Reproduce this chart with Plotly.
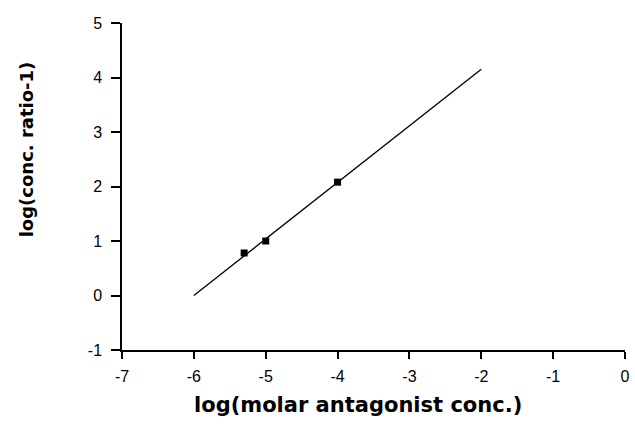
import plotly.graph_objects as go

# Data
point_x = [-5.3, -5.0, -4.0]
point_y = [0.78, 1.0, 2.08]
fit_x = [-6.0, -2.0]
fit_y = [0.0, 4.15]

x_ticks = [-7, -6, -5, -4, -3, -2, -1, 0]
y_ticks = [-1, 0, 1, 2, 3, 4, 5]

x_title = "log(molar antagonist conc.)"
y_title = "log(conc. ratio-1)"

fig = go.Figure()
fig.add_trace(go.Scatter(x=fit_x, y=fit_y, mode="lines",
                         line=dict(color="black", width=1.3), showlegend=False))
fig.add_trace(go.Scatter(x=point_x, y=point_y, mode="markers",
                         marker=dict(symbol="square", size=7, color="black"),
                         showlegend=False))

tickfont = dict(family="Liberation Sans, Arial, sans-serif", size=16, color="black")
titlefont = dict(family="DejaVu Sans, sans-serif", color="black")
fig.update_layout(
    width=635, height=426,
    margin=dict(l=122, r=5, t=23, b=76),
    paper_bgcolor="white", plot_bgcolor="white",
    xaxis=dict(range=[-7, 0], tickvals=x_ticks, ticktext=[str(v) for v in x_ticks],
               showgrid=False, zeroline=False, showline=True, linecolor="black",
               linewidth=1.5, ticks="outside", ticklen=7, tickwidth=1.5,
               tickcolor="black", tickfont=tickfont, ticklabelstandoff=4),
    yaxis=dict(range=[-1, 5], tickvals=y_ticks, ticktext=[str(v) for v in y_ticks],
               showgrid=False, zeroline=False, showline=True, linecolor="black",
               linewidth=1.5, ticks="outside", ticklen=9, tickwidth=1.5,
               tickcolor="black", tickfont=tickfont, ticklabelstandoff=6),
    annotations=[
        dict(text="<b>" + y_title + "</b>", textangle=-90,
             xref="paper", yref="paper", x=-0.19, y=0.615,
             xanchor="center", yanchor="middle", showarrow=False,
             font=dict(size=18, **titlefont)),
        dict(text="<b>" + x_title + "</b>",
             xref="paper", yref="paper", x=0.469, y=-0.168,
             xanchor="center", yanchor="middle", showarrow=False,
             font=dict(size=21, **titlefont)),
    ],
)

fig.write_html("out.html")
